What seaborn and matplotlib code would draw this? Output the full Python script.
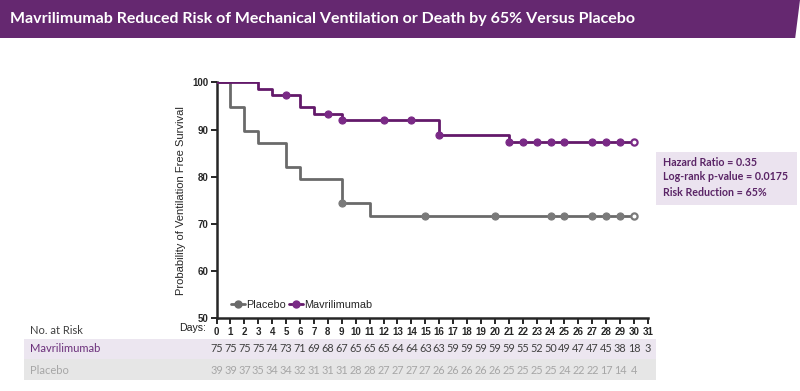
import numpy as np
import pandas as pd
import matplotlib.pyplot as plt
import matplotlib.transforms as mtransforms
from matplotlib.patches import Polygon, Rectangle
from matplotlib.lines import Line2D
import seaborn as sns

# Kaplan-Meier steps (day, % free of ventilation/death)
mavri_days = [0, 3, 4, 6, 7, 9, 16, 21, 30]
mavri_surv = [100, 98.67, 97.33, 94.67, 93.33, 92.0, 88.9, 87.3, 87.3]
mavri_censor = [5, 8, 9, 12, 14, 16, 21, 22, 23, 24, 25, 27, 28, 29, 30]

placebo_days = [0, 1, 2, 3, 5, 6, 9, 11, 30]
placebo_surv = [100, 94.87, 89.74, 87.18, 82.05, 79.49, 74.36, 71.7, 71.7]
placebo_censor = [9, 15, 20, 24, 25, 27, 28, 29, 30]

# number at risk table
risk_days = list(range(32))
mavri_risk = [75, 75, 75, 75, 74, 73, 71, 69, 68, 67, 65, 65, 65, 64, 64, 63,
              63, 59, 59, 59, 59, 59, 55, 52, 50, 49, 47, 47, 45, 38, 18, 3]
placebo_risk = [39, 39, 37, 35, 34, 34, 32, 31, 31, 31, 28, 28, 27, 27, 27, 27,
                26, 26, 26, 26, 26, 25, 25, 25, 25, 24, 22, 22, 17, 14, 4]

stats_lines = ["Hazard Ratio = 0.35", "Log-rank p-value = 0.0175", "Risk Reduction = 65%"]

MAV = "#63196a"
MAV_MK = "#7a2a86"
PLA = "#6a6a6a"
PLA_MK = "#7a7a7a"

sns.set_style("ticks")
plt.rcParams['font.family'] = ['Liberation Sans', 'DejaVu Sans']

fig = plt.figure(figsize=(8, 3.91), dpi=100)
ax = fig.add_axes([216.5 / 800, 72.7 / 391, 431.5 / 800, 236 / 391])


def at_time(days, surv, t):
    i = np.searchsorted(days, t, side='right') - 1
    return surv[i]


curves = [("Placebo", placebo_days, placebo_surv, placebo_censor, PLA, PLA_MK),
          ("Mavrilimumab", mavri_days, mavri_surv, mavri_censor, MAV, MAV_MK)]
for name, d, s, cens, col, mk in curves:
    df = pd.DataFrame({"day": d, "surv": s})
    sns.lineplot(data=df, x="day", y="surv", drawstyle="steps-post", color=col,
                 linewidth=2, ax=ax, zorder=3)
    cdf = pd.DataFrame({"day": cens, "surv": [at_time(d, s, t) for t in cens]})
    sns.scatterplot(data=cdf.iloc[:-1], x="day", y="surv", color=mk, s=26,
                    edgecolor=mk, linewidth=0.8, ax=ax, zorder=4, clip_on=False)
    sns.scatterplot(data=cdf.iloc[-1:], x="day", y="surv", color="white", s=20,
                    edgecolor=mk, linewidth=1.6, ax=ax, zorder=4, clip_on=False)

ax.set_xlim(0, 31)
ax.set_ylim(50, 100)
ax.set_xticks(risk_days)
ax.set_xticklabels([str(x) for x in risk_days], fontsize=7, fontweight="bold")
ax.set_yticks([50, 60, 70, 80, 90, 100])
ax.set_yticklabels(["50", "60", "70", "80", "90", "100"], fontsize=7, fontweight="bold")
ax.tick_params(length=4, width=1.4, pad=2)
for sp in ["left", "bottom"]:
    ax.spines[sp].set_linewidth(1.8)
sns.despine(ax=ax)
ax.set_xlabel("")
ax.set_ylabel("Probability of Ventilation Free Survival", fontsize=8, labelpad=4)

handles = [Line2D([], [], color=PLA, marker="o", markersize=5, linewidth=2),
           Line2D([], [], color=MAV, marker="o", markersize=5, linewidth=2,
                  markerfacecolor=MAV_MK, markeredgecolor=MAV_MK)]
ax.legend(handles, ["Placebo", "Mavrilimumab"], loc="lower left", ncol=2,
          frameon=False, fontsize=7.8, handlelength=1.3, handletextpad=0.1,
          columnspacing=0.3, bbox_to_anchor=(0.01, -0.005))

# title banner
fig.patches.append(Polygon([(0, 1), (1.0, 1), (0.994, 1 - 38 / 391), (0, 1 - 38 / 391)],
                           closed=True, transform=fig.transFigure, zorder=-5,
                           facecolor="#652870", edgecolor="none"))
fig.text(10 / 800, 1 - 19 / 391, "Mavrilimumab Reduced Risk of Mechanical Ventilation or Death by 65% Versus Placebo",
         color="white", fontsize=11.5, fontweight="bold", family="Lato", va="center")

# stats box
fig.patches.append(Rectangle((656 / 800, 1 - 205 / 391), 141 / 800, 53 / 391, zorder=-5,
                             transform=fig.transFigure, facecolor="#ebe3ef", edgecolor="none"))
for i, line in enumerate(stats_lines):
    fig.text(663 / 800, 1 - (162 + 15 * i) / 391, line, color="#5a2466",
             fontsize=7.7, fontweight="bold", family="Lato", va="center")

# risk table
fig.patches.append(Rectangle((24 / 800, 1 - 359 / 391), 632 / 800, 20 / 391, zorder=-5,
                             transform=fig.transFigure, facecolor="#ece6f0", edgecolor="none"))
fig.patches.append(Rectangle((24 / 800, 1 - 380 / 391), 632 / 800, 21 / 391, zorder=-5,
                             transform=fig.transFigure, facecolor="#e6e6e6", edgecolor="none"))
fig.text(30 / 800, 1 - 330 / 391, "No. at Risk", fontsize=8, family="Lato", color="#404040", va="center")
fig.text(30 / 800, 1 - 349 / 391, "Mavrilimumab", fontsize=8, family="Lato", color="#6b2f7b", va="center")
fig.text(30 / 800, 1 - 370 / 391, "Placebo", fontsize=8, family="Lato", color="#a6a6a6", va="center")
fig.text(206 / 800, 1 - 328 / 391, "Days:", fontsize=7.6, color="#202020", va="center", ha="right")

tr = mtransforms.blended_transform_factory(ax.transData, fig.transFigure)
for d, n in zip(risk_days, mavri_risk):
    ax.text(d, 1 - 349 / 391, str(n), transform=tr, ha="center", va="center",
            fontsize=7.8, family="Lato", color="#404040", clip_on=False)
for d, n in zip(risk_days, placebo_risk):
    ax.text(d, 1 - 370 / 391, str(n), transform=tr, ha="center", va="center",
            fontsize=7.8, family="Lato", color="#a6a6a6", clip_on=False)

fig.savefig("out.png", dpi=100)
